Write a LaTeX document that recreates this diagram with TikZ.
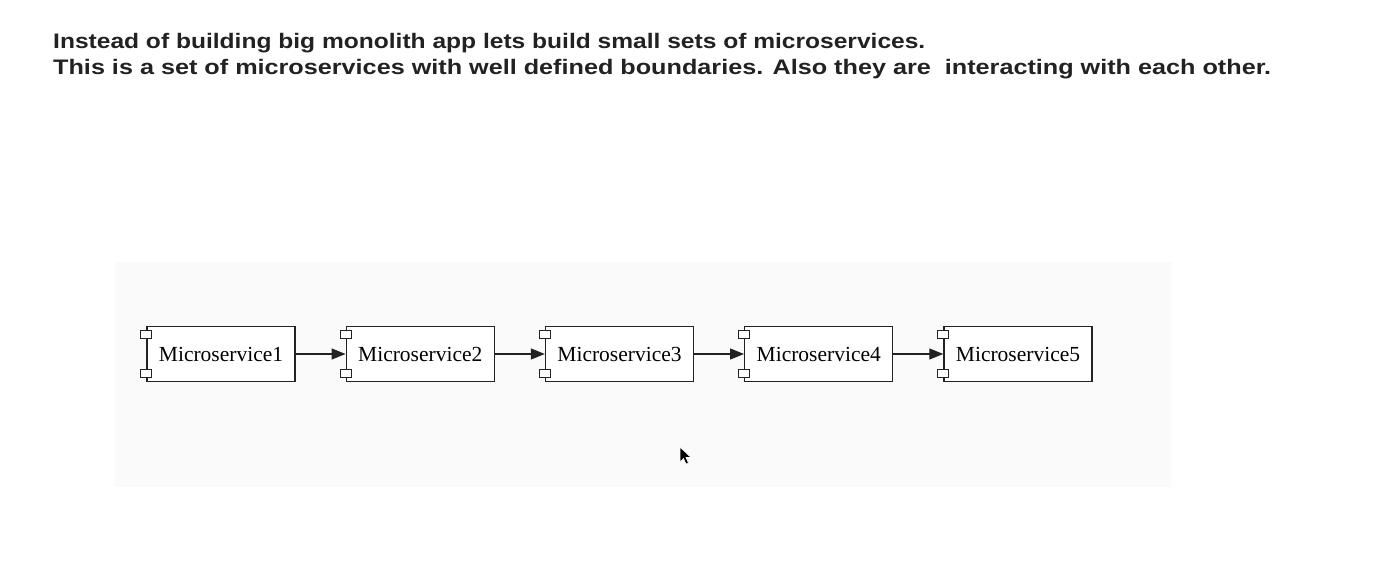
\documentclass[tikz,border=0pt]{standalone}
\usepackage{graphicx}
\usepackage{fontspec}
\setmainfont{Liberation Serif}
\newfontfamily\titlefont{Liberation Sans}
\usetikzlibrary{arrows.meta}
\definecolor{panelgray}{HTML}{FAFAFA}
\definecolor{inkgray}{HTML}{222222}
\tikzset{
  svc/.style={draw=inkgray, line width=1.4pt, fill=white, minimum width=148pt,
    minimum height=55pt, inner sep=0pt, font=\fontsize{21.5}{24}\selectfont},
  tab/.style={draw=inkgray, line width=1.1pt, fill=white},
  flow/.style={draw=inkgray, line width=1.2pt, -{Triangle[length=14pt,width=11pt]}},
  headline/.style={anchor=base west, inner sep=0pt, text=inkgray,
    font=\titlefont\bfseries\fontsize{21}{24}\selectfont}
}
\begin{document}
\begin{tikzpicture}[x=1pt,y=-1pt]
\useasboundingbox (0,0) rectangle (1380,577);
\fill[white] (0,0) rectangle (1380,577);
% panel
\fill[panelgray] (115,262) rectangle (1171,487);
% title
\node[headline] (t1) at (53,49) {\resizebox{872pt}{\height}{Instead of building big monolith app lets build small sets of microservices.}};
\node[headline] (t2) at (53,75) {\resizebox{1218pt}{\height}{This is a set of microservices with well defined boundaries. Also they are~ interacting with each other.}};
% services
\node[svc] (m1) at (221,354) {Microservice1};
\node[svc] (m2) at (420.25,354) {Microservice2};
\node[svc] (m3) at (619.5,354) {Microservice3};
\node[svc] (m4) at (818.75,354) {Microservice4};
\node[svc] (m5) at (1018,354) {Microservice5};
\foreach \n in {m1,m2,m3,m4,m5}{
  \draw[tab] ([xshift=-5.5pt,yshift=-4.5pt]\n.north west) rectangle ++(11,8);
  \draw[tab] ([xshift=-5.5pt,yshift=12.5pt]\n.south west) rectangle ++(11,8);
}
\draw[flow] (m1) -- (m2);
\draw[flow] (m2) -- (m3);
\draw[flow] (m3) -- (m4);
\draw[flow] (m4) -- (m5);
% cursor
\filldraw[fill=black, draw=white, line width=0.6pt] (680,447) -- (680,462) -- (683.5,458.5) -- (686,464) -- (688.5,463) -- (686,457.5) -- (691,457.5) -- cycle;
\end{tikzpicture}
\end{document}
